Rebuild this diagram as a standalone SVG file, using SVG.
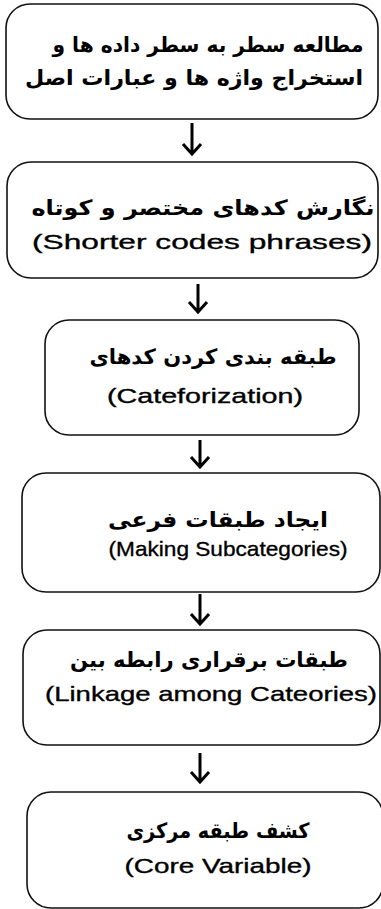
<svg xmlns="http://www.w3.org/2000/svg" width="381" height="909" viewBox="0 0 381 909">
<style>
.box{fill:#fff;stroke:#111;stroke-width:1.6}
.fa{font-family:"DejaVu Sans",sans-serif;font-size:21px;font-weight:bold;fill:#000;text-anchor:middle}
.en{font-family:"Liberation Sans",Arial,sans-serif;font-size:21px;fill:#000;text-anchor:middle;stroke:#000;stroke-width:0.35}
.arr{fill:none;stroke:#000;stroke-width:3;stroke-linecap:butt;stroke-linejoin:miter}
</style>
<rect width="381" height="909" fill="#fff"/>
<g id="n1">
<rect class="box" x="6" y="4" width="372" height="115" rx="24"/>
<text class="fa" x="208" y="52" textLength="311" lengthAdjust="spacingAndGlyphs">مطالعه سطر به سطر داده ها و</text>
<text class="fa" x="194" y="85" textLength="338" lengthAdjust="spacingAndGlyphs">استخراج واژه ها و عبارات اصل</text>
</g>
<g id="n2">
<rect class="box" x="7" y="162" width="371" height="116" rx="24"/>
<text class="fa" x="203" y="215" textLength="343" lengthAdjust="spacingAndGlyphs">نگارش کدهای مختصر و کوتاه</text>
<text class="en" x="202" y="249" textLength="340" lengthAdjust="spacingAndGlyphs">(Shorter codes phrases)</text>
</g>
<g id="n3">
<rect class="box" x="45" y="320" width="314" height="115" rx="24"/>
<text class="fa" x="213" y="364" textLength="247" lengthAdjust="spacingAndGlyphs">طبقه بندی کردن کدهای</text>
<text class="en" x="205" y="403" textLength="196" lengthAdjust="spacingAndGlyphs">(Cateforization)</text>
</g>
<g id="n4">
<rect class="box" x="22" y="473" width="358" height="119" rx="24"/>
<text class="fa" x="218" y="527" textLength="220" lengthAdjust="spacingAndGlyphs">ایجاد طبقات فرعی</text>
<text class="en" x="228" y="556" textLength="239" lengthAdjust="spacingAndGlyphs">(Making Subcategories)</text>
</g>
<g id="n5">
<rect class="box" x="23" y="630" width="357" height="115" rx="24"/>
<text class="fa" x="209" y="667" textLength="278" lengthAdjust="spacingAndGlyphs">طبقات برقراری رابطه بین</text>
<text class="en" x="211" y="701" textLength="332" lengthAdjust="spacingAndGlyphs">(Linkage among Cateories)</text>
</g>
<g id="n6">
<rect class="box" x="27" y="792" width="356" height="116" rx="24"/>
<text class="fa" x="218" y="838" textLength="183" lengthAdjust="spacingAndGlyphs">کشف طبقه مرکزی</text>
<text class="en" x="218" y="873" textLength="187" lengthAdjust="spacingAndGlyphs">(Core Variable)</text>
</g>
<g id="connectors">
<path class="arr" d="M192 123V154M183 144L192 154L201 144"/>
<path class="arr" d="M198 284V312M189 302L198 312L207 302"/>
<path class="arr" d="M200 440V467M191 457L200 467L209 457"/>
<path class="arr" d="M200 594V624M191 614L200 624L209 614"/>
<path class="arr" d="M200 753V782M191 772L200 782L209 772"/>
</g>
</svg>
